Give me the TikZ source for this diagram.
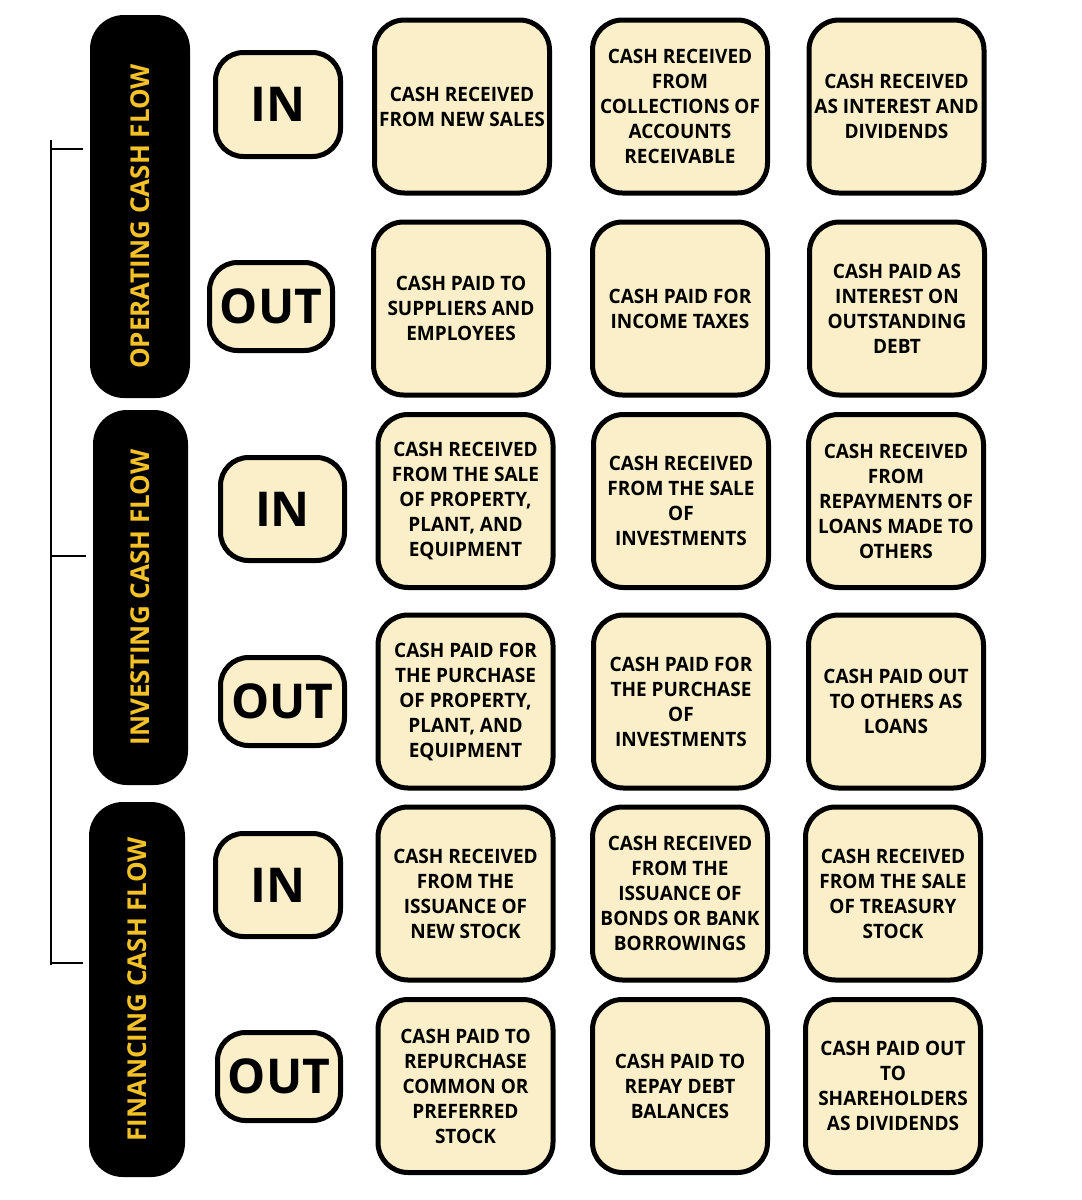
\documentclass[tikz,border=0pt]{standalone}
\usepackage{fontspec}
\setmainfont{Open Sans}
\newfontfamily\itemfont{Open Sans}[FakeStretch=0.96]
\definecolor{cream}{RGB}{250,239,201}
\definecolor{gold}{RGB}{244,194,38}
\tikzset{
  flowbar/.style={fill=black, rounded corners=34pt, rotate=90, text=gold,
    font=\fontsize{26}{30}\selectfont\bfseries, inner sep=0pt},
  iobox/.style={draw=black, line width=5pt, fill=cream, rounded corners=28pt,
    font=\fontsize{48}{50}\selectfont\bfseries, inner sep=0pt},
  itembox/.style={draw=black, line width=5pt, fill=cream, rounded corners=30pt,
    align=center, font=\itemfont\fontsize{19.8}{25}\selectfont\bfseries, inner sep=0pt,
    minimum width=175pt, minimum height=173pt},
  bracket/.style={line width=2.2pt, black}
}
\begin{document}
\begin{tikzpicture}[x=1pt,y=-1pt]
\useasboundingbox[fill=white] (0,0) rectangle (1082,1200);

% bracket
\coordinate (bt) at (51,140);
\coordinate (bb) at (51,965);
\coordinate (t1) at (51,149);  \coordinate (e1) at (83,149);
\coordinate (t2) at (51,556);  \coordinate (e2) at (86,556);
\coordinate (t3) at (51,963);  \coordinate (e3) at (83,963);
\draw[bracket] (bt) -- (bb);
\draw[bracket] (t1) -- (e1);
\draw[bracket] (t2) -- (e2);
\draw[bracket] (t3) -- (e3);

% category bars
\node[flowbar, minimum width=383pt, minimum height=100pt] (op) at (140,206.5) {\hspace*{-20pt}OPERATING CASH FLOW};
\node[flowbar, minimum width=375pt, minimum height=95pt] (inv) at (140.5,597.5) {INVESTING CASH FLOW};
\node[flowbar, minimum width=375pt, minimum height=96pt] (fin) at (137,989.5) {FINANCING CASH FLOW};

% in / out
\node[iobox, minimum width=125pt, minimum height=104pt] (opin) at (278,104.5) {IN};
\node[iobox, minimum width=123pt, minimum height=88pt] (opout) at (271,306.5) {OUT};
\node[iobox, minimum width=124pt, minimum height=103pt] (invin) at (282.5,509) {IN};
\node[iobox, minimum width=124pt, minimum height=88pt] (invout) at (282.5,701.5) {OUT};
\node[iobox, minimum width=125pt, minimum height=103pt] (finin) at (278,885) {IN};
\node[iobox, minimum width=123pt, minimum height=88pt] (finout) at (279,1076.5) {OUT};

% operating
\node[itembox] (a1) at (462,106.5) {CASH RECEIVED\\FROM NEW SALES};
\node[itembox] (a2) at (680,106.5) {CASH RECEIVED\\FROM\\COLLECTIONS OF\\ACCOUNTS\\RECEIVABLE};
\node[itembox] (a3) at (896.5,106.5) {CASH RECEIVED\\AS INTEREST AND\\DIVIDENDS};
\node[itembox] (b1) at (461,308.5) {CASH PAID TO\\SUPPLIERS AND\\EMPLOYEES};
\node[itembox] (b2) at (680,308.5) {CASH PAID FOR\\INCOME TAXES};
\node[itembox] (b3) at (897,308.5) {CASH PAID AS\\INTEREST ON\\OUTSTANDING\\DEBT};

% investing
\node[itembox] (c1) at (465.5,501) {CASH RECEIVED\\FROM THE SALE\\OF PROPERTY,\\PLANT, AND\\EQUIPMENT};
\node[itembox] (c2) at (681,501) {CASH RECEIVED\\FROM THE SALE\\OF\\INVESTMENTS};
\node[itembox] (c3) at (896,501) {CASH RECEIVED\\FROM\\REPAYMENTS OF\\LOANS MADE TO\\OTHERS};
\node[itembox] (d1) at (465.5,701.5) {CASH PAID FOR\\THE PURCHASE\\OF PROPERTY,\\PLANT, AND\\EQUIPMENT};
\node[itembox] (d2) at (681,701.5) {CASH PAID FOR\\THE PURCHASE\\OF\\INVESTMENTS};
\node[itembox] (d3) at (896,701.5) {CASH PAID OUT\\TO OTHERS AS\\LOANS};

% financing
\node[itembox] (e1b) at (465.5,893.5) {CASH RECEIVED\\FROM THE\\ISSUANCE OF\\NEW STOCK};
\node[itembox] (e2b) at (680,893.5) {CASH RECEIVED\\FROM THE\\ISSUANCE OF\\BONDS OR BANK\\BORROWINGS};
\node[itembox] (e3b) at (893,893.5) {CASH RECEIVED\\FROM THE SALE\\OF TREASURY\\STOCK};
\node[itembox] (f1) at (465.5,1086) {CASH PAID TO\\REPURCHASE\\COMMON OR\\PREFERRED\\STOCK};
\node[itembox] (f2) at (680,1086) {CASH PAID TO\\REPAY DEBT\\BALANCES};
\node[itembox] (f3) at (893,1086) {CASH PAID OUT\\TO\\SHAREHOLDERS\\AS DIVIDENDS};
\end{tikzpicture}
\end{document}
